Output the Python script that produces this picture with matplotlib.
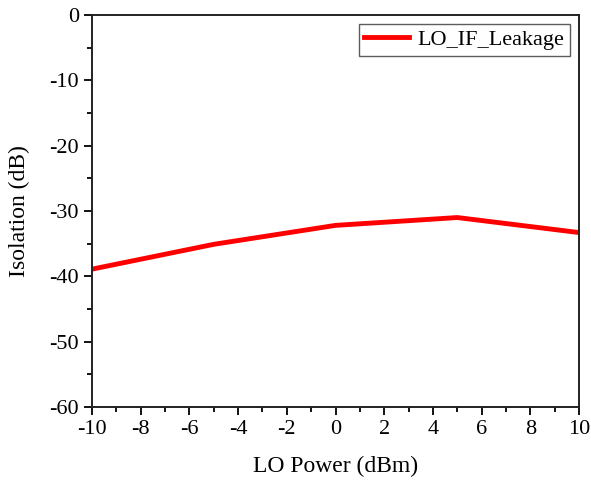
import matplotlib
matplotlib.use('Agg')
import matplotlib.pyplot as plt
from matplotlib.ticker import MultipleLocator

# 資料
lo_power = [-10, -5, 0, 5, 10]
isolation = [-38.9, -35.1, -32.2, -31.0, -33.3]

plt.rcParams['font.family'] = ['Liberation Serif', 'DejaVu Serif']
plt.rcParams['font.size'] = 16
plt.rcParams['axes.unicode_minus'] = False

fig = plt.figure(figsize=(5.91, 4.83), dpi=100)
ax = fig.add_axes([92 / 591, 1 - 407 / 483, (579 - 92) / 591, (407 - 15) / 483])

ax.plot(lo_power, isolation, color='#ff0000', linewidth=3.5, label='LO_IF_Leakage')

ax.set_xlim(-10, 10)
ax.set_ylim(-60, 0)
ax.xaxis.set_major_locator(MultipleLocator(2))
ax.xaxis.set_minor_locator(MultipleLocator(1))
ax.yaxis.set_major_locator(MultipleLocator(10))
ax.yaxis.set_minor_locator(MultipleLocator(5))
ax.tick_params(which='major', direction='out', length=6, width=1.3, labelsize=16)
ax.tick_params(which='minor', direction='out', length=3.5, width=1.3)

for s in ax.spines.values():
    s.set_linewidth(1.4)
    s.set_color('#222222')

ax.set_xlabel('LO Power (dBm)', fontsize=17, labelpad=12)
ax.set_ylabel('Isolation (dB)', fontsize=17, labelpad=14)

leg = ax.legend(loc='upper right', fontsize=16, frameon=True, fancybox=False,
                edgecolor='#333333', handlelength=2.0, borderpad=0.25,
                borderaxespad=0.4, handletextpad=0.4)
leg.get_frame().set_linewidth(1.0)

fig.savefig('out.png', dpi=100)
